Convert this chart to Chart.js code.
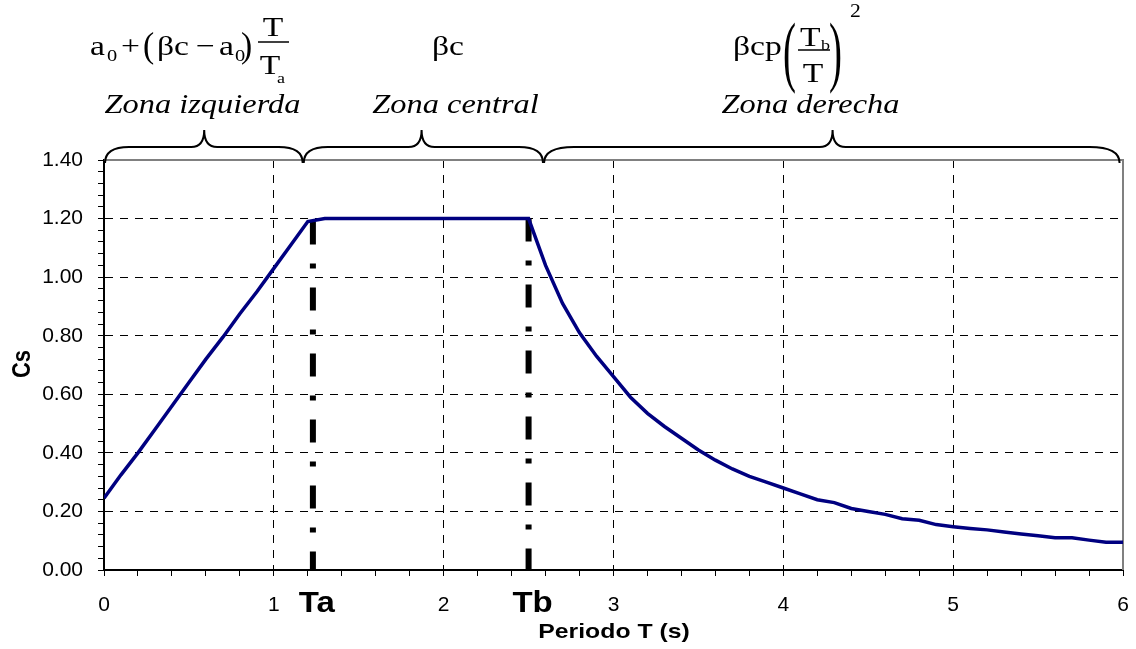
<!DOCTYPE html>
<html>
<head>
<meta charset="utf-8">
<script src="https://cdn.jsdelivr.net/npm/chart.js@4.4.1/dist/chart.umd.min.js"></script>
<style>
  html, body { margin: 0; padding: 0; background: #fff; }
</style>
</head>
<body>
<canvas id="myChart" width="1136" height="649"></canvas>
<script>
const periodT = [0.0, 0.1, 0.2, 0.3, 0.4, 0.5, 0.6, 0.7, 0.8, 0.9, 1.0, 1.1, 1.2,
  1.3, 1.4, 1.5, 1.6, 1.7, 1.8, 1.9, 2.0, 2.1, 2.2, 2.3, 2.4, 2.5,
  2.6, 2.7, 2.8, 2.9, 3.0, 3.1, 3.2, 3.3, 3.4, 3.5, 3.6, 3.7, 3.8, 3.9, 4.0,
  4.1, 4.2, 4.3, 4.4, 4.5, 4.6, 4.7, 4.8, 4.9, 5.0, 5.1, 5.2, 5.3, 5.4, 5.5,
  5.6, 5.7, 5.8, 5.9, 6.0];
const csValues = [0.245, 0.325, 0.40, 0.48, 0.56, 0.64, 0.72, 0.795, 0.875, 0.95, 1.03, 1.11, 1.19,
  1.20, 1.20, 1.20, 1.20, 1.20, 1.20, 1.20, 1.20, 1.20, 1.20, 1.20, 1.20, 1.20,
  1.04, 0.91, 0.81, 0.73, 0.66, 0.59, 0.535, 0.49, 0.45, 0.41, 0.375, 0.345, 0.32, 0.30, 0.28,
  0.26, 0.24, 0.23, 0.21, 0.20, 0.19, 0.175, 0.17, 0.155, 0.148, 0.142, 0.137, 0.13, 0.123, 0.117,
  0.11, 0.11, 0.102, 0.095, 0.095];

// Ta / Tb marker lines
const markT = [1.23, 2.5];
const markTop = [1.19, 1.2];
const markLabels = ['Ta', 'Tb'];

// zone braces above the plot
const zoneStart = [0, 1.17, 2.585];
const zoneEnd = [1.17, 2.585, 5.98];
const zoneTip = [0.59, 1.87, 4.29];
const zoneNames = ['Zona izquierda', 'Zona central', 'Zona derecha'];
const zoneLabelX = [0.58, 2.07, 4.16];

const xMax = 6, xMinor = 0.2;
const yMax = 1.4, yMinor = 0.04;

const ctx = document.getElementById('myChart');

const isMult = (v, step) => Math.abs(v / step - Math.round(v / step)) < 1e-6;

function sText(c, text, x, y, font, align, sx, sy) {
  c.save();
  c.font = font;
  c.textAlign = align || 'left';
  c.textBaseline = 'alphabetic';
  c.translate(x, y);
  c.scale(sx || 1.2, sy || 1);
  c.fillText(text, 0, 0);
  c.restore();
}

function brace(c, x1, x2, xm, yEnd, yLine, yTip, rEnd, rMid) {
  c.beginPath();
  c.moveTo(x1, yEnd);
  c.quadraticCurveTo(x1, yLine, x1 + rEnd, yLine);
  c.lineTo(xm - rMid, yLine);
  c.quadraticCurveTo(xm, yLine, xm, yTip);
  c.quadraticCurveTo(xm, yLine, xm + rMid, yLine);
  c.lineTo(x2 - rEnd, yLine);
  c.quadraticCurveTo(x2, yLine, x2, yEnd);
  c.stroke();
}

const frame = {
  id: 'frame',
  beforeDatasetsDraw(chart) {
    const { ctx, chartArea } = chart;
    ctx.save();
    ctx.strokeStyle = '#808080';
    ctx.lineWidth = 2;
    ctx.beginPath();
    ctx.moveTo(chartArea.left, chartArea.top);
    ctx.lineTo(chartArea.right, chartArea.top);
    ctx.lineTo(chartArea.right, chartArea.bottom);
    ctx.stroke();
    ctx.restore();
  }
};

const annotations = {
  id: 'annotations',
  afterDraw(chart) {
    const { ctx, scales: { x } } = chart;
    ctx.save();
    ctx.fillStyle = '#000';
    ctx.strokeStyle = '#000';

    // braces and zone names
    ctx.lineWidth = 2;
    for (let i = 0; i < zoneNames.length; i++) {
      const x1 = x.getPixelForValue(zoneStart[i]) + 1;
      const x2 = x.getPixelForValue(zoneEnd[i]);
      const xm = x.getPixelForValue(zoneTip[i]);
      brace(ctx, x1, x2, xm, 163, 147, 130, i === 2 ? 30 : 24, 13);
      sText(ctx, zoneNames[i], x.getPixelForValue(zoneLabelX[i]), 113,
        'italic 27px "Liberation Serif"', 'center', 1.2);
    }

    // Ta / Tb labels
    for (let i = 0; i < markT.length; i++) {
      sText(ctx, markLabels[i], x.getPixelForValue(markT[i]) + 4, 612,
        'bold 30px "Liberation Sans"', 'center', 1.1);
    }

    // axis titles
    sText(ctx, 'Periodo T (s)', 614, 638, 'bold 21px "Liberation Sans"', 'center', 1.18);
    ctx.save();
    ctx.translate(30, 364);
    ctx.rotate(-Math.PI / 2);
    ctx.scale(1, 1.2);
    ctx.font = 'bold 22px "Liberation Sans"';
    ctx.textAlign = 'center';
    ctx.fillText('Cs', 0, 0);
    ctx.restore();

    // formulas
    const main = '28px "Liberation Serif"';
    const sub = '17px "Liberation Serif"';
    // left: a0 + (βc − a0) T / Ta
    sText(ctx, 'a', 90, 55, main);
    sText(ctx, '0', 107, 61, sub);
    sText(ctx, '+', 121, 55, main);
    sText(ctx, '(', 143, 57, '28px "Liberation Serif"', 'left', 1.2, 1.25);
    sText(ctx, 'βc', 157, 55, main);
    sText(ctx, '−', 196, 55, main);
    sText(ctx, 'a', 219, 55, main);
    sText(ctx, '0', 235, 61, sub);
    sText(ctx, ')', 241, 57, '28px "Liberation Serif"', 'left', 1.2, 1.25);
    ctx.lineWidth = 1.5;
    ctx.beginPath();
    ctx.moveTo(258, 42); ctx.lineTo(289, 42);
    ctx.stroke();
    sText(ctx, 'T', 273, 36, main, 'center');
    sText(ctx, 'T', 270, 74, main, 'center');
    sText(ctx, 'a', 277, 83, '15px "Liberation Serif"');

    // centre: βc
    sText(ctx, 'βc', 432, 55, main);

    // right: βcp (Tb / T)^2
    sText(ctx, 'βcp', 733, 55, main);
    sText(ctx, '(', 783, 77, '30px "Liberation Serif"', 'left', 1.3, 2.6);
    sText(ctx, ')', 829, 77, '30px "Liberation Serif"', 'left', 1.3, 2.6);
    ctx.beginPath();
    ctx.moveTo(798, 50); ctx.lineTo(830, 50);
    ctx.stroke();
    sText(ctx, 'T', 800, 46, main);
    sText(ctx, 'b', 821, 50, '15px "Liberation Serif"');
    sText(ctx, 'T', 813, 82, main, 'center');
    sText(ctx, '2', 850, 17, '18px "Liberation Serif"');
    ctx.restore();
  }
};

new Chart(ctx, {
  type: 'scatter',
  data: {
    datasets: [{
      label: 'Cs',
      data: periodT.map((t, i) => ({ x: t, y: csValues[i] })),
      showLine: true,
      borderColor: '#000080',
      borderWidth: 3.5,
      pointRadius: 0,
      tension: 0
    }].concat(markT.map((t, i) => ({
      label: markLabels[i],
      data: [{ x: t, y: markTop[i] }, { x: t, y: 0 }],
      showLine: true,
      borderColor: '#000',
      borderWidth: 6,
      borderDash: [23, 19, 5, 19],
      borderCapStyle: 'butt',
      pointRadius: 0
    })))
  },
  options: {
    responsive: false,
    animation: false,
    devicePixelRatio: 1,
    layout: { padding: { top: 160, right: 13, left: 0, bottom: 0 } },
    plugins: { legend: { display: false }, tooltip: { enabled: false } },
    scales: {
      x: {
        type: 'linear',
        min: 0,
        max: xMax,
        afterBuildTicks: (scale) => {
          const t = [];
          for (let i = 0; i <= Math.round(xMax / xMinor); i++) t.push({ value: +(i * xMinor).toFixed(2) });
          scale.ticks = t;
        },
        afterFit: (scale) => { scale.height = 79; },
        ticks: {
          autoSkip: false,
          maxRotation: 0,
          padding: 0,
          color: '#000',
          font: { family: 'Liberation Sans', size: 21, lineHeight: 2.76 },
          callback: (v) => isMult(v, 1) ? String(Math.round(v)) : ''
        },
        grid: {
          color: (c) => (c.tick && isMult(c.tick.value, 1) && c.tick.value > 0 && c.tick.value < xMax) ? '#000' : 'rgba(0,0,0,0)',
          lineWidth: 1,
          tickColor: '#000',
          tickLength: 6,
          tickWidth: 1
        },
        border: { color: '#000', width: 2, dash: [8, 7] }
      },
      y: {
        min: 0,
        max: yMax,
        afterBuildTicks: (scale) => {
          const t = [];
          for (let i = 0; i <= Math.round(yMax / yMinor); i++) t.push({ value: +(i * yMinor).toFixed(2) });
          scale.ticks = t;
        },
        afterFit: (scale) => { scale.width = 104; },
        ticks: {
          autoSkip: false,
          padding: 15,
          color: '#000',
          font: { family: 'Liberation Sans', size: 21 },
          callback: (v) => isMult(v, 0.2) ? v.toFixed(2) : ''
        },
        grid: {
          color: (c) => (c.tick && isMult(c.tick.value, 0.2) && c.tick.value > 0 && c.tick.value < yMax - 1e-6) ? '#000' : 'rgba(0,0,0,0)',
          lineWidth: 1,
          tickColor: '#000',
          tickLength: 6,
          tickWidth: 1
        },
        border: { color: '#000', width: 2, dash: [8, 7] }
      }
    }
  },
  plugins: [frame, annotations]
});
</script>
</body>
</html>
